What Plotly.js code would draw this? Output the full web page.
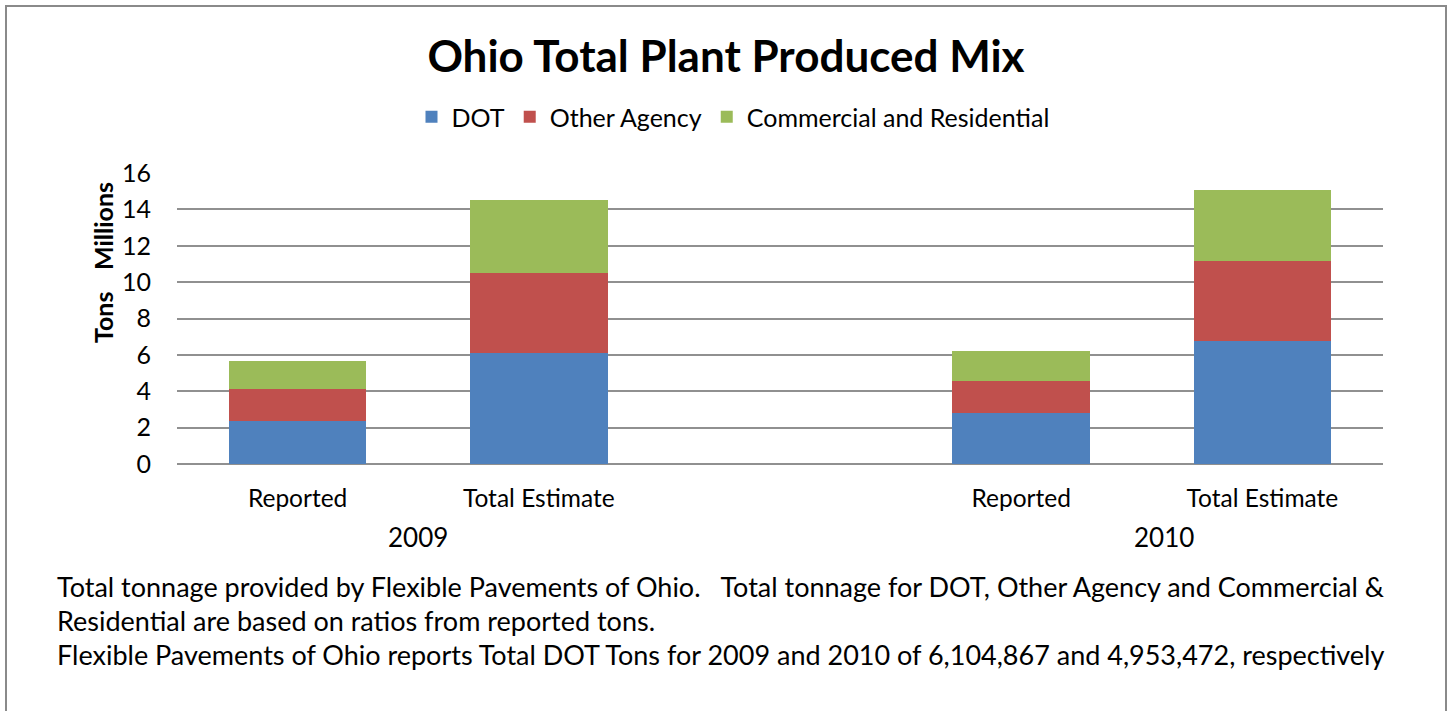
<!DOCTYPE html>
<html>
<head>
<meta charset="utf-8">
<script src="https://cdn.plot.ly/plotly-3.0.1.min.js"></script>
<style>
  html, body { margin: 0; padding: 0; background: #ffffff; }
  #chart { width: 1452px; height: 711px; }
</style>
</head>
<body>
<div id="chart"></div>
<script>
// ---- Data (millions of tons) ----
const slots = ['2009 Reported', '2009 Total Estimate', 'gap', '2010 Reported', '2010 Total Estimate'];
const slotLabels = ['Reported', 'Total Estimate', '', 'Reported', 'Total Estimate'];
const barSlots = ['2009 Reported', '2009 Total Estimate', '2010 Reported', '2010 Total Estimate'];
const years = ['2009', '2010'];
const dot = [2.38, 6.10, 2.78, 6.75];
const otherAgency = [1.72, 4.41, 1.81, 4.40];
const commercialResidential = [1.57, 3.99, 1.62, 3.93];
const seriesNames = ['DOT', 'Other Agency', 'Commercial and Residential'];
const yTicks = [0, 2, 4, 6, 8, 10, 12, 14, 16];
const notes = [
  'Total tonnage provided by Flexible Pavements of Ohio.   Total tonnage for DOT, Other Agency and Commercial &',
  'Residential are based on ratios from reported tons.',
  'Flexible Pavements of Ohio reports Total DOT Tons for 2009 and 2010 of 6,104,867 and 4,953,472, respectively'
];

const FONT = 'Lato, "Open Sans", sans-serif';
const colors = ['#4F81BD', '#C0504D', '#9BBB59'];
const seriesValues = [dot, otherAgency, commercialResidential];

const traces = seriesValues.map((vals, i) => ({
  type: 'bar',
  name: seriesNames[i],
  x: barSlots,
  y: vals,
  marker: { color: colors[i], line: { width: 0 } },
  hoverinfo: 'x+y+name'
}));

// page-pixel helpers
const L = 177, R = 1383, T = 173, B = 464;
const px2x = p => (p - L) / (R - L);
const px2y = p => (B - p) / (B - T);

const annotations = [
  { text: years[0], x: 0.5, xref: 'x', y: px2y(537), yref: 'paper', showarrow: false,
    xanchor: 'center', yanchor: 'middle', font: { family: FONT, size: 26, color: '#000' } },
  { text: years[1], x: 3.59, xref: 'x', y: px2y(537), yref: 'paper', showarrow: false,
    xanchor: 'center', yanchor: 'middle', font: { family: FONT, size: 26, color: '#000' } },
  { text: '<b>Tons</b>', x: px2x(103), xref: 'paper', y: px2y(318), yref: 'paper', showarrow: false,
    textangle: -90, xanchor: 'center', yanchor: 'middle', font: { family: FONT, size: 25, color: '#000' } },
  { text: '<b>Millions</b>', x: px2x(103), xref: 'paper', y: px2y(226), yref: 'paper', showarrow: false,
    textangle: -90, xanchor: 'center', yanchor: 'middle', font: { family: FONT, size: 25, color: '#000' } }
];
const noteY = [586, 620, 654];
notes.forEach((t, i) => annotations.push({
  text: t, x: px2x(55), xref: 'paper', y: px2y(noteY[i]), yref: 'paper', showarrow: false,
  xanchor: 'left', yanchor: 'middle', align: 'left', font: { family: FONT, size: 27, color: '#000' }
}));

const layout = {
  width: 1452, height: 711,
  margin: { l: L, r: 1452 - R, t: T, b: 711 - B, pad: 0 },
  paper_bgcolor: '#ffffff', plot_bgcolor: '#ffffff',
  barmode: 'stack',
  bargap: 0.43,
  font: { family: FONT, size: 24, color: '#000' },
  title: {
    text: '<b>Ohio Total Plant Produced Mix</b>',
    x: 0.5, xref: 'container', xanchor: 'center',
    y: 1 - 57 / 711, yref: 'container', yanchor: 'middle',
    font: { family: FONT, size: 44, color: '#000' }
  },
  showlegend: true,
  legend: {
    orientation: 'h', x: px2x(733), xanchor: 'center', y: px2y(117), yanchor: 'middle',
    font: { family: FONT, size: 25, color: '#000' }, itemwidth: 30,
    traceorder: 'normal', itemclick: false, itemdoubleclick: false
  },
  xaxis: {
    type: 'category', categoryorder: 'array', categoryarray: slots,
    tickmode: 'array', tickvals: slots, ticktext: slotLabels,
    range: [-0.5, 4.5], showgrid: false, zeroline: false,
    showline: false, ticks: '', ticklabelstandoff: 17,
    tickfont: { family: FONT, size: 24.5, color: '#000' }, fixedrange: true
  },
  yaxis: {
    range: [0, 16], tickmode: 'array', tickvals: yTicks,
    showgrid: true, gridcolor: '#909090', gridwidth: 2,
    zeroline: true, zerolinecolor: '#909090', zerolinewidth: 2,
    showline: false, ticks: '', ticklabelstandoff: 25,
    tickfont: { family: FONT, size: 25, color: '#000' }, fixedrange: true
  },
  annotations: annotations,
  shapes: [
    { type: 'rect', xref: 'paper', yref: 'paper',
      x0: px2x(6), x1: px2x(1446), y0: px2y(730), y1: px2y(6),
      line: { color: '#8a8a8a', width: 2 }, fillcolor: 'rgba(0,0,0,0)', layer: 'below' }
  ]
};

Plotly.newPlot('chart', traces, layout, { displayModeBar: false, staticPlot: false });
</script>
</body>
</html>
